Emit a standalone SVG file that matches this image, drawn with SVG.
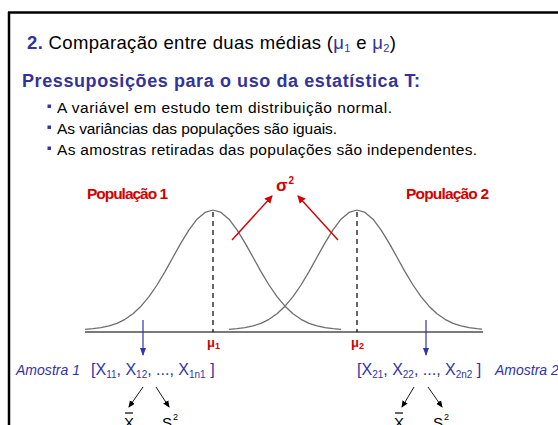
<svg xmlns="http://www.w3.org/2000/svg" width="558" height="425" viewBox="0 0 558 425">
<style>
text{font-family:"Liberation Sans",Arial,sans-serif}
.blue{fill:#333399}
.red{fill:#d40000;font-weight:bold}
.blk{fill:#000}
.curve{fill:none;stroke:#6e6e6e;stroke-width:1.3;stroke-linejoin:round}
.dash{stroke:#000;stroke-width:1.2;stroke-dasharray:5 4}
.ra{stroke:#d40000;stroke-width:1.4;marker-end:url(#mr)}
.ba{stroke:#3333aa;stroke-width:1.2;marker-end:url(#mb)}
.ka{stroke:#000;stroke-width:0.9;marker-end:url(#mk)}
.samp{fill:#3333aa;font-size:16px}
</style>
<defs>
<marker id="mr" markerWidth="8" markerHeight="8" refX="7" refY="4" orient="auto" markerUnits="userSpaceOnUse"><path d="M0,0 L8,4 L0,8 z" fill="#d40000"/></marker>
<marker id="mb" markerWidth="8" markerHeight="8" refX="7" refY="4" orient="auto" markerUnits="userSpaceOnUse"><path d="M0,1 L8,4 L0,7 z" fill="#3333aa"/></marker>
<marker id="mk" markerWidth="7" markerHeight="7" refX="6" refY="3.5" orient="auto" markerUnits="userSpaceOnUse"><path d="M0,0.5 L7,3.5 L0,6.5 z" fill="#000"/></marker>
</defs>
<rect width="558" height="425" fill="#fff"/>
<g id="frame">
<line x1="8" y1="12.5" x2="558" y2="12.5" stroke="#000" stroke-width="2.5"/>
<line x1="9" y1="12" x2="9" y2="425" stroke="#000" stroke-width="2.5"/>
</g>
<g id="title">
<text x="27" y="49" font-size="18.5" textLength="369"><tspan class="blue" font-weight="bold">2.</tspan><tspan class="blk"> Comparação entre duas médias (</tspan><tspan class="blue">μ</tspan><tspan class="blue" font-size="11" dy="3">1</tspan><tspan class="blk" dy="-3"> e </tspan><tspan class="blue">μ</tspan><tspan class="blue" font-size="11" dy="3">2</tspan><tspan class="blk" dy="-3">)</tspan></text>
</g>
<g id="heading">
<text x="22" y="87" font-size="18" font-weight="bold" class="blue" textLength="398">Pressuposições para o uso da estatística T:</text>
</g>
<g id="bullets">
<rect x="47.5" y="104.5" width="3.5" height="3.5" fill="#3333aa"/>
<rect x="47.5" y="125.5" width="3.5" height="3.5" fill="#3333aa"/>
<rect x="47.5" y="146.5" width="3.5" height="3.5" fill="#3333aa"/>
<text x="57" y="113" font-size="15.5" textLength="335">A variável em estudo tem distribuição normal.</text>
<text x="57" y="134" font-size="15.5" textLength="280">As variâncias das populações são iguais.</text>
<text x="57" y="155" font-size="15.5" textLength="420">As amostras retiradas das populações são independentes.</text>
</g>
<g id="pop1">
<text x="87" y="199" font-size="15.5" class="red" textLength="81">População 1</text>
</g>
<g id="pop2">
<text x="406" y="199" font-size="15.5" class="red" textLength="83">População 2</text>
</g>
<g id="sigma2">
<text x="276" y="191" font-size="17" class="red">σ</text>
<text x="288.5" y="184" font-size="10" class="red">2</text>
</g>
<g id="axis">
<line x1="85" y1="332" x2="483" y2="332" stroke="#7a7a7a" stroke-width="2"/>
</g>
<g id="curve1">
<polyline class="curve" points="85,329.3 93,328.7 101,327.6 109,325.9 117,323.3 125,319.3 133,313.8 141,306.2 149,296.6 157,285 165,271.6 173,257.2 181,242.9 189,229.8 197,219.2 205,212.4 213,210 221,212.4 229,219.2 237,229.8 245,242.9 253,257.2 261,271.6 269,285 277,296.6 285,306.2 293,313.8 301,319.3 309,323.3 317,325.9 325,327.6 333,328.7 341,329.3"/>
<line class="dash" x1="213" y1="212" x2="213" y2="332"/>
<text x="207" y="347" font-size="13" class="red">μ<tspan font-size="9" dy="2">1</tspan></text>
</g>
<g id="curve2">
<polyline class="curve" points="229,329.3 237,328.7 245,327.6 253,325.9 261,323.3 269,319.3 277,313.8 285,306.2 293,296.6 301,285 309,271.6 317,257.2 325,242.9 333,229.8 341,219.2 349,212.4 357,210 365,212.4 373,219.2 381,229.8 389,242.9 397,257.2 405,271.6 413,285 421,296.6 429,306.2 437,313.8 445,319.3 453,323.3 461,325.9 469,327.6 477,328.7 482,329.1"/>
<line class="dash" x1="357" y1="212" x2="357" y2="332"/>
<text x="351" y="347" font-size="13" class="red">μ<tspan font-size="9" dy="2">2</tspan></text>
</g>
<g id="sample1">
<text x="16" y="375" font-size="14" font-style="italic" fill="#3333aa" textLength="64">Amostra 1</text>
<text x="91" y="375" class="samp">[X<tspan font-size="10" dy="3">11</tspan><tspan dy="-3">, X</tspan><tspan font-size="10" dy="3">12</tspan><tspan dy="-3">, ..., X</tspan><tspan font-size="10" dy="3">1n1</tspan><tspan dy="-3"> ]</tspan></text>
</g>
<g id="sample2">
<text x="357" y="375" class="samp">[X<tspan font-size="10" dy="3">21</tspan><tspan dy="-3">, X</tspan><tspan font-size="10" dy="3">22</tspan><tspan dy="-3">, ..., X</tspan><tspan font-size="10" dy="3">2n2</tspan><tspan dy="-3"> ]</tspan></text>
<text x="495" y="375" font-size="14" font-style="italic" fill="#3333aa">Amostra 2</text>
</g>
<g id="stats1">
<text x="124" y="428" font-size="15" fill="#000">X</text>
<line x1="125" y1="413" x2="133" y2="413" stroke="#000" stroke-width="1.2"/>
<text x="162" y="428" font-size="15" fill="#000">S</text>
<text x="173" y="420" font-size="9" fill="#000">2</text>
</g>
<g id="stats2">
<text x="394" y="428" font-size="15" fill="#000">X</text>
<line x1="395" y1="413" x2="403" y2="413" stroke="#000" stroke-width="1.2"/>
<text x="433" y="428" font-size="15" fill="#000">S</text>
<text x="444" y="420" font-size="9" fill="#000">2</text>
</g>
<g id="connectors">
<line class="ra" x1="232" y1="240" x2="272" y2="196"/>
<line class="ra" x1="338" y1="240" x2="298" y2="196"/>
<line class="ba" x1="143" y1="320" x2="143" y2="355"/>
<line class="ba" x1="426" y1="320" x2="426" y2="355"/>
<line class="ka" x1="143" y1="387" x2="129" y2="407"/>
<line class="ka" x1="156" y1="387" x2="169" y2="407"/>
<line class="ka" x1="414" y1="387" x2="402" y2="407"/>
<line class="ka" x1="428" y1="387" x2="442" y2="407"/>
</g>
</svg>
